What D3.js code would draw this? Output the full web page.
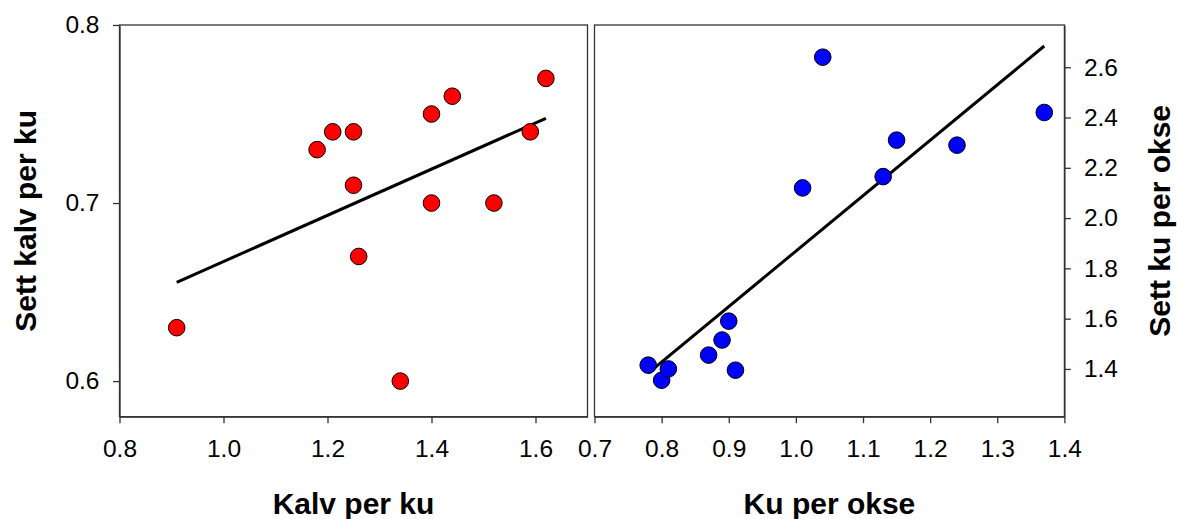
<!DOCTYPE html>
<html>
<head>
<meta charset="utf-8">
<script src="https://cdn.jsdelivr.net/npm/d3@7"></script>
<style>
  html, body { margin: 0; padding: 0; background: #fff; }
  svg { display: block; }
  text { font-family: Arial, "Liberation Sans", sans-serif; fill: #000; }
</style>
</head>
<body>
<svg id="chart" width="1177" height="519"></svg>
<script>
// ---- Data ----
const kalvPerKu     = [0.91, 1.18, 1.21, 1.25, 1.25, 1.26, 1.34, 1.40, 1.40, 1.44, 1.52, 1.59, 1.62];
const settKalvPerKu = [0.63, 0.73, 0.74, 0.74, 0.71, 0.67, 0.60, 0.75, 0.70, 0.76, 0.70, 0.74, 0.77];

const kuPerOkse     = [0.78, 0.80, 0.81, 0.87, 0.89, 0.90, 0.91, 1.01, 1.04, 1.13, 1.15, 1.24, 1.37];
const settKuPerOkse = [1.415, 1.355, 1.40, 1.455, 1.515, 1.59, 1.395, 2.12, 2.64, 2.165, 2.31, 2.29, 2.42];

const leftXTicks  = [0.8, 1.0, 1.2, 1.4, 1.6];
const leftYTicks  = [0.6, 0.7, 0.8];
const rightXTicks = [0.7, 0.8, 0.9, 1.0, 1.1, 1.2, 1.3, 1.4];
const rightYTicks = [1.4, 1.6, 1.8, 2.0, 2.2, 2.4, 2.6];

const leftXTitle  = "Kalv per ku";
const leftYTitle  = "Sett kalv per ku";
const rightXTitle = "Ku per okse";
const rightYTitle = "Sett ku per okse";

// ---- Helpers ----
function linreg(xs, ys) {
  const n = xs.length;
  const mx = d3.mean(xs), my = d3.mean(ys);
  let sxy = 0, sxx = 0;
  for (let i = 0; i < n; i++) { sxy += (xs[i]-mx)*(ys[i]-my); sxx += (xs[i]-mx)**2; }
  const b = sxy / sxx, a = my - b*mx;
  return x => a + b*x;
}

const svg = d3.select("#chart");
const frameColor = "#333";
const TICK_FS = 24.5, TITLE_FS = 30;

function panel(opts) {
  const { x, y, xs, ys, xTicks, yTicks, yFmt, xFmt, color, yAxisSide } = opts;
  const g = svg.append("g");
  const [x0, x1] = x.range();
  const [y0, y1] = y.range(); // y0 bottom, y1 top

  // frame
  g.append("rect")
    .attr("x", x0).attr("y", y1)
    .attr("width", x1 - x0).attr("height", y0 - y1)
    .attr("fill", "none").attr("stroke", frameColor).attr("stroke-width", 1.3);

  // bottom axis
  const xAxis = d3.axisBottom(x).tickValues(xTicks).tickFormat(xFmt).tickSizeInner(6.5).tickSizeOuter(0).tickPadding(16.5);
  const gx = g.append("g").attr("transform", `translate(0,${y0})`).call(xAxis);
  gx.select(".domain").attr("stroke", frameColor).attr("stroke-width", 1.3);
  gx.selectAll(".tick line").attr("stroke", frameColor).attr("stroke-width", 1.3);
  gx.selectAll(".tick text").attr("font-size", TICK_FS).attr("font-family", "Arial, 'Liberation Sans', sans-serif");

  // side axis
  let yAxis;
  if (yAxisSide === "left") {
    yAxis = d3.axisLeft(y).tickValues(yTicks).tickFormat(yFmt).tickSizeInner(6.5).tickSizeOuter(0).tickPadding(13.5);
  } else {
    yAxis = d3.axisRight(y).tickValues(yTicks).tickFormat(yFmt).tickSizeInner(6.5).tickSizeOuter(0).tickPadding(13);
  }
  const gy = g.append("g").attr("transform", `translate(${yAxisSide === "left" ? x0 : x1},0)`).call(yAxis);
  gy.select(".domain").attr("stroke", frameColor).attr("stroke-width", 1.3);
  gy.selectAll(".tick line").attr("stroke", frameColor).attr("stroke-width", 1.3);
  gy.selectAll(".tick text").attr("font-size", TICK_FS).attr("font-family", "Arial, 'Liberation Sans', sans-serif");

  // regression line
  const f = linreg(xs, ys);
  const ext = d3.extent(xs);
  g.append("path")
    .datum(ext)
    .attr("d", d3.line().x(d => x(d)).y(d => y(f(d))))
    .attr("stroke", "#000").attr("stroke-width", 3).attr("fill", "none");

  // points
  g.selectAll("circle.pt")
    .data(xs.map((v, i) => [v, ys[i]]))
    .join("circle")
    .attr("class", "pt")
    .attr("cx", d => x(d[0])).attr("cy", d => y(d[1]))
    .attr("r", 8.3)
    .attr("fill", color).attr("stroke", "#000").attr("stroke-width", 1);

  return g;
}

// ---- Left panel ----
const xL = d3.scaleLinear().domain([0.8, 1.7]).range([119.5, 587.5]);
const yL = d3.scaleLinear().domain([0.58, 0.8]).range([416.7, 25]);
panel({ x: xL, y: yL, xs: kalvPerKu, ys: settKalvPerKu,
  xTicks: leftXTicks, yTicks: leftYTicks,
  xFmt: d3.format(".1f"), yFmt: d3.format(".1f"),
  color: "#ff0000", yAxisSide: "left" });

// ---- Right panel ----
const xR = d3.scaleLinear().domain([0.7, 1.4]).range([594.5, 1064.4]);
const yR = d3.scaleLinear().domain([1.21, 2.768]).range([416.7, 25]);
panel({ x: xR, y: yR, xs: kuPerOkse, ys: settKuPerOkse,
  xTicks: rightXTicks, yTicks: rightYTicks,
  xFmt: d3.format(".1f"), yFmt: d3.format(".1f"),
  color: "#0000ff", yAxisSide: "right" });

// ---- Titles ----
svg.append("text").text(leftXTitle)
  .attr("x", (119.5 + 587.5) / 2).attr("y", 514)
  .attr("text-anchor", "middle").attr("font-size", TITLE_FS).attr("font-weight", "bold");
svg.append("text").text(rightXTitle)
  .attr("x", (594.5 + 1064.4) / 2).attr("y", 514)
  .attr("text-anchor", "middle").attr("font-size", TITLE_FS).attr("font-weight", "bold");
svg.append("text").text(leftYTitle)
  .attr("transform", `translate(36,${(25 + 416.7) / 2}) rotate(-90)`)
  .attr("text-anchor", "middle").attr("font-size", TITLE_FS).attr("font-weight", "bold");
svg.append("text").text(rightYTitle)
  .attr("transform", `translate(1170,${(25 + 416.7) / 2}) rotate(-90)`)
  .attr("text-anchor", "middle").attr("font-size", TITLE_FS).attr("font-weight", "bold");
</script>
</body>
</html>
